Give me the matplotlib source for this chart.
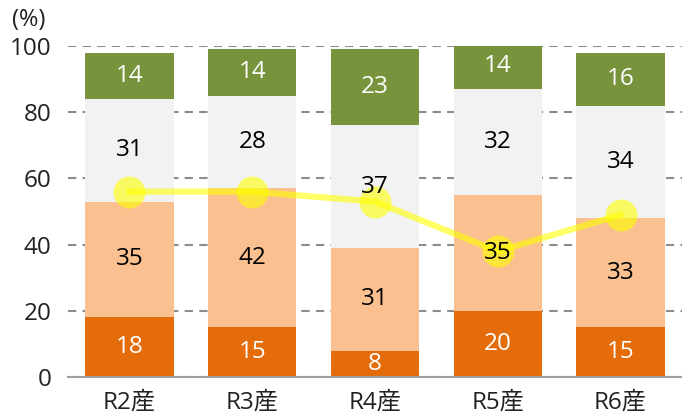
import matplotlib.pyplot as plt
import numpy as np

plt.rcParams['font.family'] = ['Open Sans', 'Noto Sans CJK JP', 'DejaVu Sans']

years = ['R2産', 'R3産', 'R4産', 'R5産', 'R6産']
seg1 = [18, 15, 8, 20, 15]
seg2 = [35, 42, 31, 35, 33]
seg3 = [31, 28, 37, 32, 34]
seg4 = [14, 14, 23, 14, 16]
line_vals = [56, 56, 53, 38, 49]

colors = ['#E46C0A', '#FAC090', '#F2F2F2', '#77933C']
text_colors = ['white', 'black', 'black', 'white']

fig = plt.figure(figsize=(6.82, 4.18), dpi=100)
ax = fig.add_axes([68 / 682, 41 / 418, 1 - 68 / 682, 331 / 418])

x = np.arange(len(years))
bottom = np.zeros(len(years))
for vals, c, tc in zip([seg1, seg2, seg3, seg4], colors, text_colors):
    vals = np.array(vals)
    ax.bar(x, vals, 0.72, bottom=bottom, color=c, zorder=2)
    for xi, b, v in zip(x, bottom, vals):
        ax.text(xi, b + v / 2, str(v), ha='center', va='center',
                fontsize=17.5, color=tc, zorder=5)
    bottom = bottom + vals

ax.plot(x, line_vals, color='#FFFF00', alpha=0.6, lw=4.5,
        marker='o', markersize=23, markeredgewidth=0, zorder=4)

ax.set_xlim(-0.5, 4.5)
ax.set_ylim(0, 100)
ax.set_yticks([0, 20, 40, 60, 80, 100])
ax.set_xticks(x)
ax.set_xticklabels(years)
ax.tick_params(axis='both', length=0, labelsize=17.5, colors='#222222')
ax.tick_params(axis='x', pad=10)
ax.tick_params(axis='y', pad=12)
ax.yaxis.grid(True, color='#8C8C8C', linestyle=(0, (4, 3)), lw=1.5, zorder=0)
ax.set_axisbelow(True)
for s in ['top', 'right', 'left']:
    ax.spines[s].set_visible(False)
ax.spines['bottom'].set_color('#9E9E9E')
ax.spines['bottom'].set_linewidth(1.5)

fig.text(12 / 682, 1 - 20 / 418, '(%)', fontsize=17, va='center', color='#222222')

fig.savefig('out.png', dpi=100)
